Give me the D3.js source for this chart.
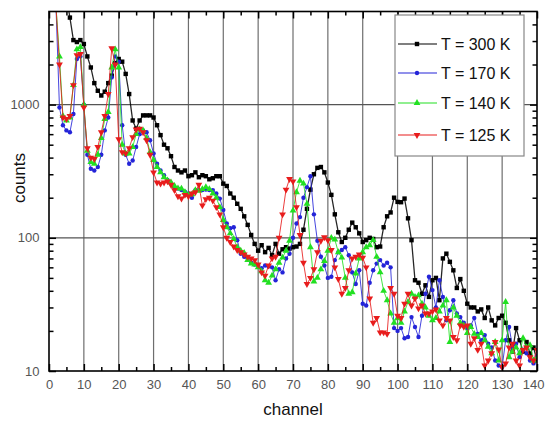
<!DOCTYPE html>
<html><head><meta charset="utf-8">
<script src="https://cdn.jsdelivr.net/npm/d3@7"></script>
<style>body{margin:0;background:#fff}</style>
</head><body><svg id="c" width="546" height="422"></svg>
<script>
const startChannel = 2;
const t300 = [10000,9000,8000,6500,4500,3050,2950,3050,2850,2300,
1900,1450,1270,1170,1250,1450,1650,2050,2200,2100,
1700,1200,760,660,760,830,830,830,800,700,
590,500,470,410,340,320,310,320,290,295,
310,285,295,290,275,280,290,290,255,245,
215,200,180,165,145,125,105,90,80,88,
78,84,74,90,76,82,85,83,85,86,
90,115,165,230,300,335,340,310,260,210,
150,110,93,100,115,130,120,108,93,96,
100,98,85,86,120,145,155,200,186,185,
197,140,96,48,46,38,44,36,48,50,
34,70,76,66,57,42,49,40,32,30,
30,28,29,25,30,24,22,25,26,23,
17,14,21,17,14,16.5,13.5,15,12];
const t170 = [5500,950,700,640,620,850,2200,2300,1000,420,
330,320,340,420,640,800,1600,2300,2100,700,
420,360,380,480,600,640,620,540,430,360,
320,295,272,256,240,234,228,222,215,200,
228,228,228,230,228,228,215,197,162,128,
118,120,96,76,72,70,65,63,62,59,
62,61,60,48,58,55,70,76,100,128,
143,200,240,290,150,95,72,62,50,51,
68,78,81,85,74,55,45,57,32,31,
46,57,64,68,62,65,60,21,20,21,
17.6,18,25.4,21.4,18,26,38,51,40.5,30,
48,36,24,28.6,34,27,25.4,23,21,22,
25,19,17,18.6,16,15,12,11,10.7,17,
21.4,15,16,12.7,14.4,13.6,12,11.4,13];
const t140 = [5500,2300,820,760,800,1400,2600,2700,1000,450,
370,360,420,560,780,880,1900,2600,1900,500,
430,430,480,600,650,640,560,440,383,340,
310,285,270,260,245,235,234,220,210,212,
228,225,232,240,232,215,200,170,136,120,
108,98,85,80,77,68,64,63,60,56,
48,46,52,58,65,71,80,95,160,220,
268,255,180,85,47,50,58,67,80,100,
97,78,71,50,38,39,54,70,78,85,
88,96,72,55,40,34,27,23,25,23,
28,33,38,36,37,32,30,26,24,25,
28,31,34,16.5,30,26,23,22,19.3,21.4,
19,18,19.3,17,15.2,13.6,16.5,12,17,33,
12.7,14,15,13.6,17.6,15,15.6,12,12.5];
const t125 = [5500,2000,800,780,820,1400,2350,2400,950,470,
400,390,480,620,820,1200,2650,2000,550,440,
430,470,570,650,660,620,540,420,310,260,
255,260,265,250,228,205,197,210,205,215,
220,250,175,195,200,190,170,150,120,100,
93,86,81,78,75,72,70,68,63,55,
52,62,70,72,100,150,230,276,265,170,
105,65,45,50,58,78,95,101,96,81,
60,49,38,42,57,70,72,75,71,60,
35,23,25,19.5,19.5,19,42,38,26,25,
32,38,31,35,29.5,31,27,27,28,29,
24,22,25,24,18,17,22,21.5,22,16,
17.6,14.4,16,11,12,13.6,16.5,14.5,10.7,11.4,
15,16,12,11,14.4,15,12.7,12,14.4];
const xTicks = [0,10,20,30,40,50,60,70,80,90,100,110,120,130,140];
const xMinor = [5,15,25,35,45,55,65,75,85,95,105,115,125,135];
const yTicks = [10,100,1000];
const yMinor = [20,30,40,50,60,70,80,90,200,300,400,500,600,700,800,900,2000,3000,4000];
const seriesNames = ["T = 300 K","T = 170 K","T = 140 K","T = 125 K"];
const seriesValues = [t300,t170,t140,t125];
const seriesColors = ["#000000","#2424d8","#22e022","#e81c1c"];
const seriesShapes = ["square","circle","triangle","triangleDown"];

const svg = d3.select("#c");
const L=49,R=537,T=11.5,B=371;
const x = d3.scaleLinear().domain([0,140]).range([L,R]);
const y = d3.scaleLog().domain([10,5000]).range([B,T]);
const font = "'Liberation Sans', Arial, sans-serif";

svg.append("defs").append("clipPath").attr("id","clip")
  .append("rect").attr("x",L).attr("y",T).attr("width",R-L).attr("height",B-T);

// grid
svg.append("g").selectAll("line").data(xTicks.slice(1,-1)).join("line")
  .attr("x1",d=>x(d)).attr("x2",d=>x(d)).attr("y1",T).attr("y2",B)
  .attr("stroke","#6e6e6e").attr("stroke-width",1.2);
svg.append("g").selectAll("line").data([100,1000]).join("line")
  .attr("x1",L).attr("x2",R).attr("y1",d=>y(d)).attr("y2",d=>y(d))
  .attr("stroke","#555").attr("stroke-width",1.2);

// data
const data = seriesValues.map((vals,i)=>({name:seriesNames[i],color:seriesColors[i],shape:seriesShapes[i],
  pts:vals.map((v,j)=>({c:startChannel+j,v}))}));
const line = d3.line().x(d=>x(d.c)).y(d=>y(d.v));
const symTri = d3.symbol().type(d3.symbolTriangle).size(20);
const plot = svg.append("g").attr("clip-path","url(#clip)");
function drawMarker(g, shape, color){
  if(shape==="square") g.append("rect").attr("x",-2.2).attr("y",-2.2).attr("width",4.4).attr("height",4.4).attr("fill",color);
  else if(shape==="circle") g.append("circle").attr("r",2.2).attr("fill",color);
  else if(shape==="triangle") g.append("path").attr("d",symTri()).attr("fill",color);
  else g.append("path").attr("d",symTri()).attr("transform","rotate(180)").attr("fill",color);
}
data.forEach(s=>{
  const g = plot.append("g");
  g.append("path").datum(s.pts).attr("d",line).attr("fill","none")
    .attr("stroke",s.color).attr("stroke-width",s.shape==="square"?1.3:1).attr("stroke-opacity",0.85);
  g.selectAll("g.m").data(s.pts).join("g").attr("class","m")
    .attr("transform",d=>`translate(${x(d.c)},${y(d.v)})`)
    .each(function(){drawMarker(d3.select(this), s.shape, s.color);});
});

// axes
function styleAxis(g){
  g.select(".domain").remove();
  g.selectAll(".tick line").attr("stroke","#000").attr("stroke-width",1.5);
  g.selectAll("text").attr("fill","#555").style("font-family",font).style("font-size","13px");
}
const xAxisG = svg.append("g").attr("transform",`translate(0,${B})`)
  .call(d3.axisBottom(x).tickValues(xTicks).tickSize(-7).tickSizeOuter(0).tickPadding(9).tickFormat(d3.format("d"))).call(styleAxis);
xAxisG.selectAll(".tick text").filter(d=>d===140).attr("text-anchor","end").attr("dx","7");
svg.append("g").attr("transform",`translate(0,${B})`)
  .call(d3.axisBottom(x).tickValues(xMinor).tickSize(-4).tickSizeOuter(0).tickFormat("")).call(styleAxis);
svg.append("g").attr("transform",`translate(0,${T})`)
  .call(d3.axisTop(x).tickValues(xTicks).tickSize(-7).tickSizeOuter(0).tickFormat("")).call(styleAxis);
svg.append("g").attr("transform",`translate(0,${T})`)
  .call(d3.axisTop(x).tickValues(xMinor).tickSize(-4).tickSizeOuter(0).tickFormat("")).call(styleAxis);
svg.append("g").attr("transform",`translate(${L},0)`)
  .call(d3.axisLeft(y).tickValues(yTicks).tickSize(-7).tickSizeOuter(0).tickPadding(9.5).tickFormat(d3.format("d"))).call(styleAxis);
svg.append("g").attr("transform",`translate(${L},0)`)
  .call(d3.axisLeft(y).tickValues(yMinor).tickSize(-4.5).tickSizeOuter(0).tickFormat("")).call(styleAxis);
svg.append("g").attr("transform",`translate(${R},0)`)
  .call(d3.axisRight(y).tickValues(yTicks).tickSize(-7).tickSizeOuter(0).tickFormat("")).call(styleAxis);
svg.append("g").attr("transform",`translate(${R},0)`)
  .call(d3.axisRight(y).tickValues(yMinor).tickSize(-4.5).tickSizeOuter(0).tickFormat("")).call(styleAxis);

svg.append("rect").attr("x",L).attr("y",T).attr("width",R-L).attr("height",B-T)
  .attr("fill","none").attr("stroke","#000").attr("stroke-width",1.6);

// axis titles
svg.append("text").attr("x",(L+R)/2).attr("y",415).attr("text-anchor","middle")
  .style("font-family",font).style("font-size","17px").attr("fill","#111").text("channel");
svg.append("text").attr("transform","translate(25,178) rotate(-90)").attr("text-anchor","middle")
  .style("font-family",font).style("font-size","17px").attr("fill","#111").text("counts");

// legend
const lg = svg.append("g");
lg.append("rect").attr("x",395).attr("y",15).attr("width",129).attr("height",141)
  .attr("fill","#fff").attr("stroke","#888").attr("stroke-width",1.2);
const ly = [44,73,103,135];
data.forEach((s,i)=>{
  const g = lg.append("g").attr("transform",`translate(0,${ly[i]})`);
  g.append("line").attr("x1",398).attr("x2",437).attr("stroke",s.color).attr("stroke-width",1.2);
  const m = g.append("g").attr("transform","translate(417,0)");
  drawMarker(m, s.shape, s.color);
  g.append("text").attr("x",441).attr("dy","0.36em").style("font-family",font).style("font-size","16px")
    .attr("fill","#111").text(s.name);
});
</script></body></html>
